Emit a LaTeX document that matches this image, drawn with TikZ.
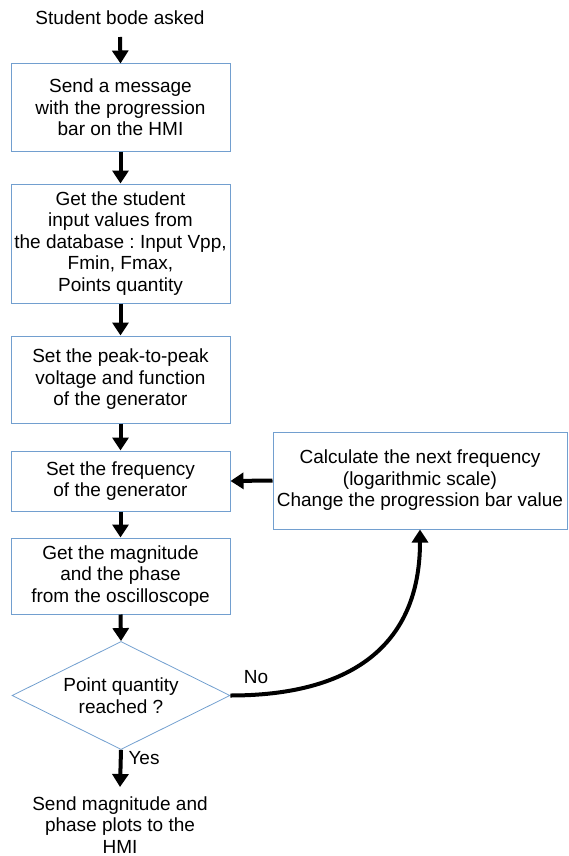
\documentclass[tikz,border=0pt]{standalone}
\usepackage{fontspec}
\setmainfont{Liberation Sans}
\usetikzlibrary{arrows.meta,shapes.geometric}
\definecolor{boxblue}{HTML}{729FCF}
\frenchspacing
\tikzset{
  stepbox/.style={draw=boxblue, line width=1pt, rectangle, inner sep=0pt, align=center, minimum width=219pt},
  decbox/.style={draw=boxblue, line width=0.8pt, diamond, aspect=2, inner sep=0pt, align=center, minimum width=218pt, minimum height=108pt},
  plain/.style={inner sep=0pt, align=center},
  flow/.style={line width=4pt, -{Triangle[width=16pt,length=13pt]}},
}
\begin{document}
\begin{tikzpicture}[x=1pt,y=-1pt,font=\fontsize{19}{21.5}\selectfont]
\useasboundingbox (0,0) rectangle (568,856);
\node[plain] (start) at (120,18) {Student bode asked};
\node[stepbox, minimum height=87pt] (b1) at (120.5,107.5) {Send a message\\with the progression\\bar on the HMI};
\node[stepbox, minimum height=119pt] (b2) at (120.5,243.5) {Get the student\\input values from\\the database : Input Vpp,\\Fmin, Fmax,\\Points quantity};
\node[stepbox, minimum height=87pt] (b3) at (120.5,379.5) {Set the peak-to-peak\\voltage and function\\of the generator};
\node[stepbox, minimum height=60pt] (b4) at (120.5,481) {Set the frequency\\of the generator};
\node[stepbox, minimum height=76pt] (b5) at (120.5,576) {Get the magnitude\\and the phase\\from the oscilloscope};
\node[decbox] (dec) at (121,695.5) {Point quantity\\reached ?};
\node[plain] (end) at (120,825) {Send magnitude and\\phase plots to the\\HMI};
\node[stepbox, minimum width=294pt, minimum height=97pt] (calc) at (420,480.5) {Calculate the next frequency\\(logarithmic scale)\\Change the progression bar value};
\coordinate (s0) at (120,37);
\coordinate (e0) at (120,787);
\draw[flow] (s0) -- (b1.north);
\draw[flow] (b1.south) -- (b2.north);
\draw[flow] (b2.south) -- (b3.north);
\draw[flow] (b3.south) -- (b4.north);
\draw[flow] (b4.south) -- (b5.north);
\draw[flow] (b5.south) -- (dec.north);
\draw[flow] (dec.south) -- (e0);
\draw[flow] (calc.west) -- (b4.east);
\draw[flow] (dec.east) to[out=0,in=-90,looseness=1.2] (calc.south);
\node[plain] (no) at (256,677) {No};
\node[plain] (yes) at (144,758) {Yes};
\end{tikzpicture}
\end{document}
